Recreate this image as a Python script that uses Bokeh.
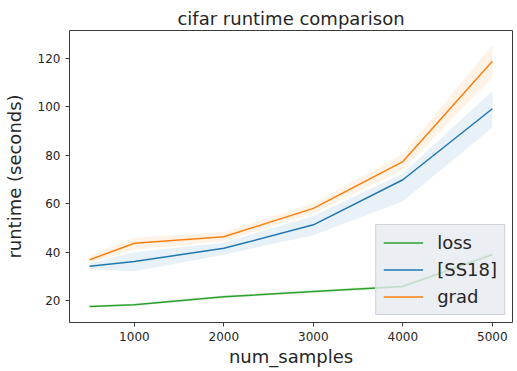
from bokeh.plotting import figure
from bokeh.embed import file_html
from bokeh.resources import INLINE
from bokeh.models import Range1d, FixedTicker, Legend, LegendItem

num_samples = [500, 1000, 2000, 3000, 4000, 5000]

loss_mean = [17.6, 18.3, 21.6, 23.8, 25.9, 39.0]
loss_low = [17.1, 17.8, 21.0, 23.2, 25.2, 38.0]
loss_high = [18.1, 18.8, 22.2, 24.4, 26.6, 40.0]

ss18_mean = [34.2, 36.2, 41.6, 51.3, 69.9, 99.2]
ss18_low = [33.0, 32.2, 39.0, 47.0, 61.0, 91.5]
ss18_high = [35.5, 40.0, 44.0, 55.0, 72.5, 106.5]

grad_mean = [36.9, 43.7, 46.4, 58.1, 77.4, 118.8]
grad_low = [35.5, 41.0, 44.5, 56.0, 74.0, 112.0]
grad_high = [38.5, 46.0, 48.5, 60.0, 80.5, 125.5]

x_ticks = [1000, 2000, 3000, 4000, 5000]
y_ticks = [20, 40, 60, 80, 100, 120]

FONT = "DejaVu Sans"
TXT = "#262626"

p = figure(width=516, height=370, output_backend="svg", toolbar_location=None,
           x_range=Range1d(275, 5225), y_range=Range1d(11, 131.5),
           title="cifar runtime comparison",
           min_border_left=65, min_border_right=4, min_border_top=30, min_border_bottom=48)
p.border_fill_color = "white"

p.title.text_font = FONT
p.title.text_font_size = "18px"
p.title.text_font_style = "normal"
p.title.text_color = TXT
p.title.align = "center"
p.title.standoff = 3

p.xgrid.visible = False
p.ygrid.visible = False
p.outline_line_color = "#3a3a3a"
p.outline_line_width = 1
p.background_fill_color = "white"

blue = "#1f77b4"
orange = "#ff7f0e"
green = "#2ca02c"

p.varea(x=num_samples, y1=loss_low, y2=loss_high, fill_color=green, fill_alpha=0.12)
p.varea(x=num_samples, y1=ss18_low, y2=ss18_high, fill_color=blue, fill_alpha=0.1)
p.varea(x=num_samples, y1=grad_low, y2=grad_high, fill_color=orange, fill_alpha=0.1)

r_loss = p.line(num_samples, loss_mean, line_color=green, line_width=1.5)
r_ss18 = p.line(num_samples, ss18_mean, line_color=blue, line_width=1.5)
r_grad = p.line(num_samples, grad_mean, line_color=orange, line_width=1.5)

for ax in (p.xaxis[0], p.yaxis[0]):
    ax.major_label_text_font = FONT
    ax.major_label_text_font_size = "12px"
    ax.major_label_text_color = TXT
    ax.axis_label_text_font = FONT
    ax.axis_label_text_font_size = "18px"
    ax.axis_label_text_font_style = "normal"
    ax.axis_label_text_color = TXT
    ax.axis_line_color = None
    ax.major_tick_line_color = "#3a3a3a"
    ax.major_tick_out = 4
    ax.major_tick_in = 0
    ax.minor_tick_line_color = None

p.xaxis.ticker = FixedTicker(ticks=x_ticks)
p.yaxis.ticker = FixedTicker(ticks=y_ticks)
p.xaxis.axis_label = "num_samples"
p.yaxis.axis_label = "runtime (seconds)"
p.xaxis.axis_label_standoff = 2
p.yaxis.axis_label_standoff = 10
p.xaxis.major_label_standoff = 5
p.yaxis.major_label_standoff = 5

legend = Legend(items=[LegendItem(label="loss", renderers=[r_loss]),
                       LegendItem(label="[SS18]", renderers=[r_ss18]),
                       LegendItem(label="grad", renderers=[r_grad])],
                location="bottom_right")
legend.label_text_font = FONT
legend.label_text_font_size = "18px"
legend.label_text_color = TXT
legend.background_fill_color = "#e6eaf0"
legend.background_fill_alpha = 0.8
legend.border_line_color = "#d0d4da"
legend.border_line_alpha = 1
legend.glyph_width = 40
legend.glyph_height = 21
legend.label_standoff = 14
legend.spacing = 6
legend.padding = 7
legend.margin = 7
p.add_layout(legend)

open("out.html", "w").write(file_html(p, INLINE))
